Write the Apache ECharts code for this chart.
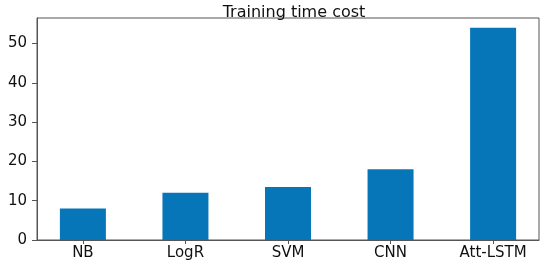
<!DOCTYPE html>
<html>
<head>
<meta charset="utf-8">
<script src="https://cdn.jsdelivr.net/npm/echarts@6/dist/echarts.min.js"></script>
<style>
  html, body { margin: 0; padding: 0; background: #fff; }
  #main { width: 550px; height: 261px; }
</style>
</head>
<body>
<div id="main"></div>
<script>
"use strict";
// data
var categories = ['NB', 'LogR', 'SVM', 'CNN', 'Att-LSTM'];
var trainTime = [8, 12, 13.5, 18, 54];
var yTicks = [0, 10, 20, 30, 40, 50];
var tickPos = [0, 1, 2, 3, 4];

var barData = trainTime.map(function (v, i) { return [i, v]; });

var chart = echarts.init(document.getElementById('main'));
var font = 'DejaVu Sans';
chart.setOption({
    animation: false,
    title: {
        text: 'Training time cost',
        left: 289,
        textAlign: 'center',
        top: 0,
        textStyle: { fontFamily: font, fontSize: 16, fontWeight: 'normal', color: '#111' }
    },
    grid: {
        left: 37, right: 11, top: 18, bottom: 20,
        show: true, borderColor: '#555', borderWidth: 1
    },
    xAxis: {
        type: 'value',
        min: -0.4475,
        max: 4.4475,
        splitLine: { show: false },
        axisLine: { show: true, onZero: false, lineStyle: { color: '#555' } },
        axisTick: { show: true, customValues: tickPos, length: 4, lineStyle: { color: '#555' } },
        axisLabel: {
            customValues: tickPos,
            formatter: function (v) { return categories[Math.round(v)]; },
            fontFamily: font, fontSize: 15, color: '#111', margin: 6
        }
    },
    yAxis: {
        type: 'value',
        min: 0,
        max: 56.5,
        splitLine: { show: false },
        axisLine: { show: true, onZero: false, lineStyle: { color: '#555' } },
        axisTick: { show: true, customValues: yTicks, length: 5, lineStyle: { color: '#555' } },
        axisLabel: {
            customValues: yTicks,
            fontFamily: font, fontSize: 15, color: '#111', margin: 10
        }
    },
    series: [{
        type: 'bar',
        data: barData,
        barWidth: 46,
        itemStyle: { color: '#0776b8' }
    }]
});
</script>
</body>
</html>
